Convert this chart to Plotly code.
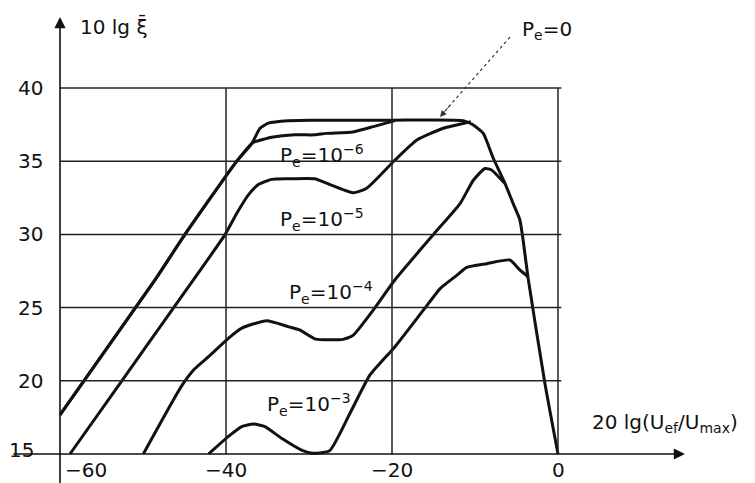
import plotly.graph_objects as go

# ---- data ----
pe0_x = [-60, -48.55, -44.94, -38.7, -36.9, -35.9, -34.9, -32.5, -29.3, -20, -11.4, -10.2, -9.0, -7.8, -6.4, -5.4, -4.6, -4.2, -3.6, -1.57, 0]
pe0_y = [17.67, 26.9, 30.0, 35.0, 36.2, 37.25, 37.6, 37.77, 37.8, 37.8, 37.77, 37.47, 36.9, 35.2, 33.5, 32.1, 31.0, 29.6, 27.0, 19.8, 15.0]

pe6_x = [-60, -48.55, -44.94, -38.7, -36.9, -36.5, -34.5, -31.7, -29.3, -27.9, -24.7, -22.25, -19.64]
pe6_y = [17.67, 26.9, 30.0, 35.0, 36.2, 36.33, 36.63, 36.8, 36.8, 36.9, 37.0, 37.36, 37.77]

pe5_x = [-58.8, -52.55, -46.3, -40.1, -38.7, -37.3, -36.1, -34.5, -32.5, -29.3, -27.9, -24.7, -23.05, -19.64, -17.0, -13.8, -11.2, -10.5]
pe5_y = [15.0, 20.0, 25.0, 30.0, 31.44, 32.7, 33.4, 33.76, 33.8, 33.8, 33.5, 32.85, 33.15, 35.08, 36.45, 37.25, 37.6, 37.7]

pe4_x = [-49.96, -45.4, -43.8, -42.0, -39.72, -38.1, -35.1, -32.5, -31.1, -29.2, -25.9, -24.7, -22.25, -19.64, -15.0, -11.8, -10.2, -8.8, -8.0, -6.6, -6.4]
pe4_y = [15.0, 19.6, 20.8, 21.7, 22.9, 23.6, 24.1, 23.7, 23.47, 22.85, 22.83, 23.1, 24.84, 26.9, 30.0, 32.1, 33.7, 34.5, 34.4, 33.6, 33.5]

pe3_x = [-42.1, -39.7, -38.1, -36.7, -35.3, -33.3, -30.9, -29.5, -27.5, -25.06, -22.65, -19.64, -16.2, -14.2, -12.2, -11.0, -8.6, -5.8, -4.6, -3.6]
pe3_y = [15.0, 16.2, 16.87, 17.05, 16.87, 16.07, 15.27, 15.05, 15.23, 17.78, 20.4, 22.33, 24.84, 26.3, 27.2, 27.75, 28.0, 28.25, 27.57, 27.1]

x_ticks = [-60, -40, -20, 0]
x_tick_text = ["\u221260", "\u221240", "\u221220", "0"]
y_ticks = [15, 20, 25, 30, 35, 40]
x_grid = [-40, -20, 0]
y_grid = [20, 25, 30, 35, 40]

series = [
    ("P<sub>e</sub>=0", pe0_x, pe0_y),
    ("P<sub>e</sub>=10<sup>\u22126</sup>", pe6_x, pe6_y),
    ("P<sub>e</sub>=10<sup>\u22125</sup>", pe5_x, pe5_y),
    ("P<sub>e</sub>=10<sup>\u22124</sup>", pe4_x, pe4_y),
    ("P<sub>e</sub>=10<sup>\u22123</sup>", pe3_x, pe3_y),
]

FONT = "DejaVu Sans"
INK = "#111111"
GRID = "#222222"

fig = go.Figure()
for name, xs, ys in series:
    fig.add_trace(go.Scatter(x=xs, y=ys, mode="lines", name=name,
                             line=dict(color=INK, width=3, shape="spline", smoothing=0.5),
                             hoverinfo="skip"))

shapes = []
for gx in x_grid:
    shapes.append(dict(type="line", xref="x", yref="y", x0=gx, x1=gx, y0=15, y1=40,
                       line=dict(color=GRID, width=1.5)))
for gy in y_grid:
    shapes.append(dict(type="line", xref="x", yref="y", x0=-60, x1=0.4, y0=gy, y1=gy,
                       line=dict(color=GRID, width=1.5)))
# leader line for Pe=0 label
shapes.append(dict(type="line", xref="x", yref="y", x0=-5.78, y0=43.48, x1=-13.6, y1=38.45,
                   line=dict(color="#333333", width=1.2, dash="dot")))

ann = []
# axes with arrows
ann.append(dict(x=-60, y=44.85, ax=-60, ay=12.9, xref="x", yref="y", axref="x", ayref="y",
                showarrow=True, arrowhead=2, arrowsize=1.4, arrowwidth=1.6, arrowcolor=INK, text=""))
ann.append(dict(x=15.3, y=15, ax=-65.8, ay=15, xref="x", yref="y", axref="x", ayref="y",
                showarrow=True, arrowhead=2, arrowsize=1.4, arrowwidth=1.6, arrowcolor=INK, text=""))
# arrowhead of Pe=0 leader
ann.append(dict(x=-14.22, y=38.02, ax=-12.8, ay=38.95, xref="x", yref="y", axref="x", ayref="y",
                showarrow=True, arrowhead=2, arrowsize=1.3, arrowwidth=1, arrowcolor="#333333", text=""))

font = dict(family=FONT, size=20, color=INK)
for v in y_ticks:
    ann.append(dict(x=-60, y=v, xref="x", yref="y", text=str(v), showarrow=False,
                    xanchor="right", yanchor="middle", xshift=-15 if v != 15 else -24,
                    yshift=0 if v != 15 else 4, font=font))
for v, t in zip(x_ticks, x_tick_text):
    ann.append(dict(x=v, y=15, xref="x", yref="y", text=t, showarrow=False,
                    xanchor="center", yanchor="middle", yshift=-16,
                    xshift=26 if v == -60 else 0, font=font))

labels = [
    (series[0][0], -4.58, 43.96),
    (series[1][0], -33.73, 35.36),
    (series[2][0], -33.73, 31.05),
    (series[3][0], -32.65, 26.0),
    (series[4][0], -35.3, 18.35),
]
for t, lx, ly in labels:
    ann.append(dict(x=lx, y=ly, xref="x", yref="y", text=t, showarrow=False,
                    xanchor="left", yanchor="middle", font=font))

ann.append(dict(x=-57.83, y=44.17, xref="x", yref="y", text="10 lg \u03be\u0304", showarrow=False,
                xanchor="left", yanchor="middle", font=font))
ann.append(dict(x=3.86, y=17.12, xref="x", yref="y",
                text="20 lg(U<sub>ef</sub>/U<sub>max</sub>)", showarrow=False,
                xanchor="left", yanchor="middle", font=font))

fig.update_layout(
    width=755, height=483,
    margin=dict(l=0, r=0, t=0, b=0),
    paper_bgcolor="white", plot_bgcolor="white",
    showlegend=False,
    xaxis=dict(visible=False, range=[-67.229, 23.735], fixedrange=True),
    yaxis=dict(visible=False, range=[13.019, 46.011], fixedrange=True),
    shapes=shapes, annotations=ann,
)

fig.write_html("out.html", config={"displayModeBar": False},
               post_script="document.body.style.margin='0';document.body.style.overflow='hidden';")
